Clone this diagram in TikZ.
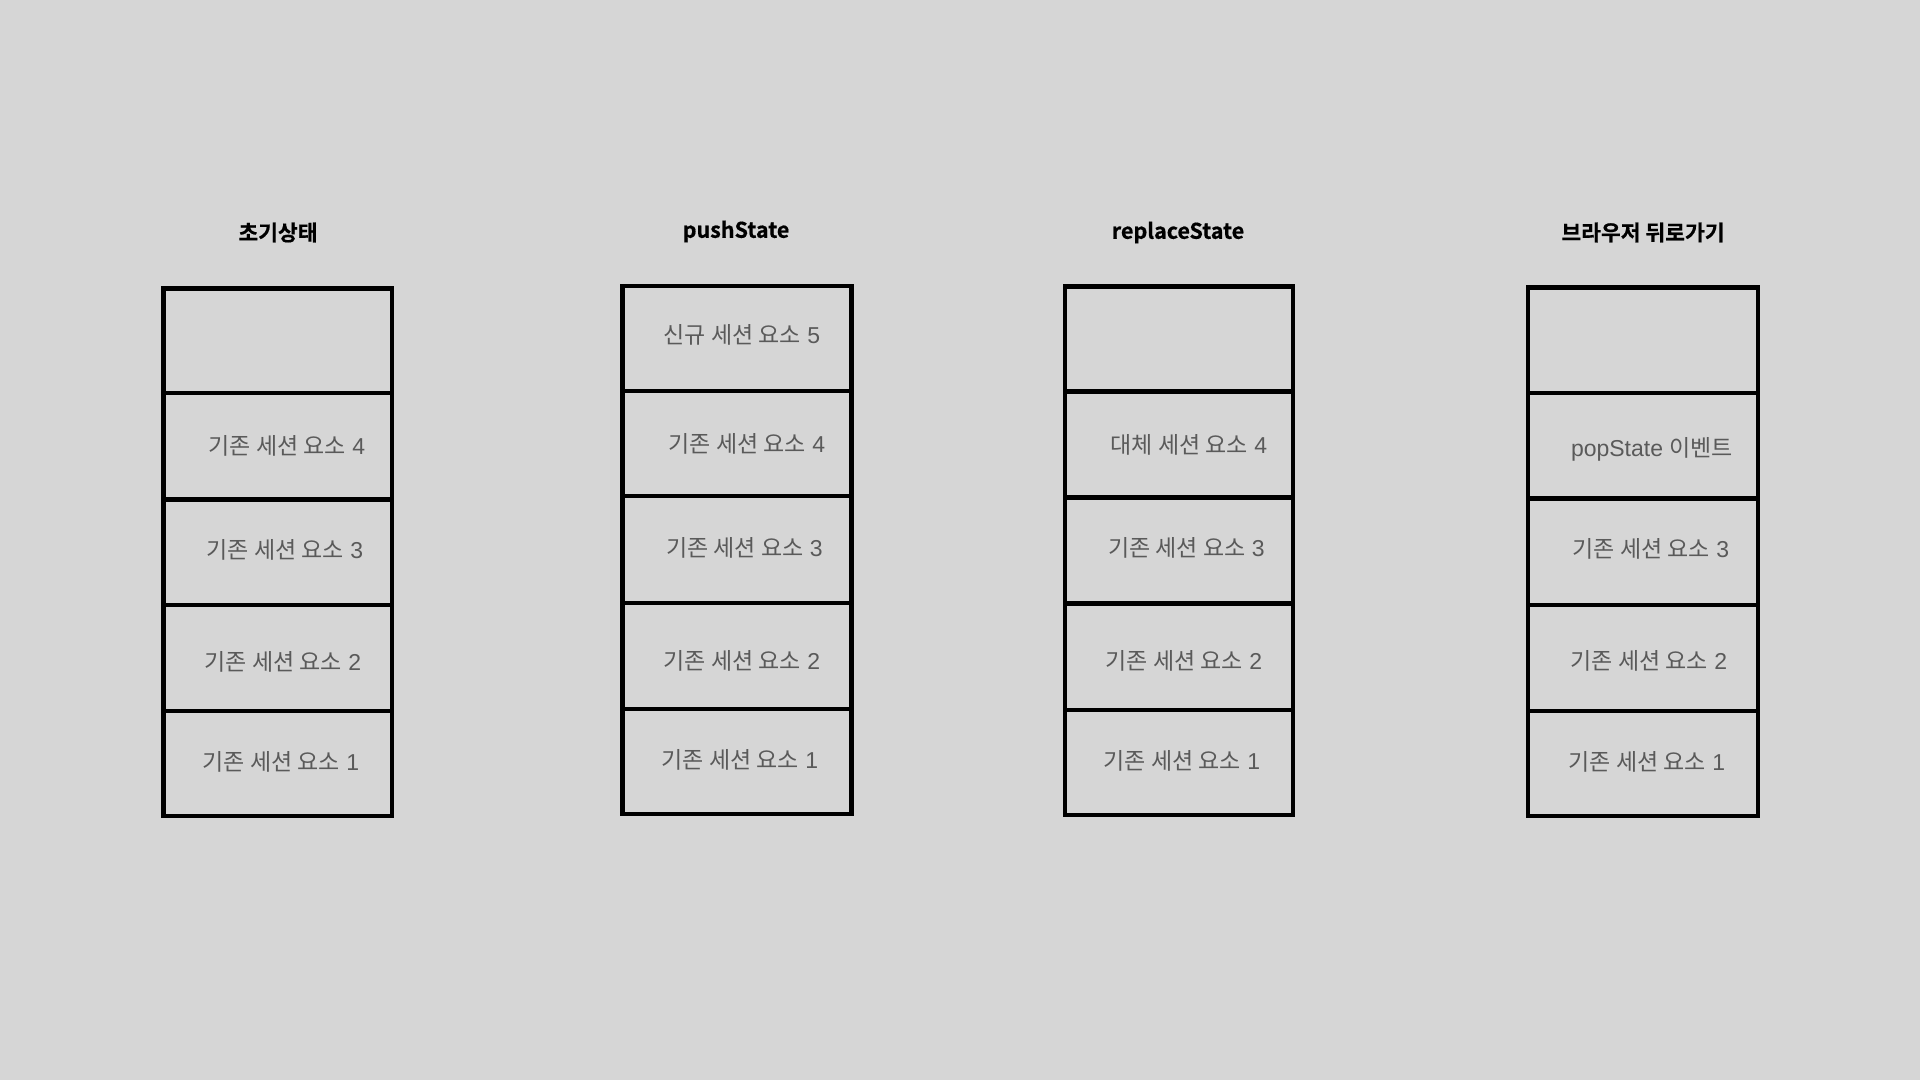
\documentclass[tikz,border=0pt]{standalone}
\usepackage{fontspec}
\setmainfont{Liberation Sans}
\newfontfamily\kr{Noto Sans CJK KR}
\newfontfamily\krb{Noto Sans CJK KR Bold}[FakeBold=0.6]
\definecolor{bgc}{HTML}{D6D6D6}
\definecolor{txt}{HTML}{5A5A5A}
\tikzset{
  cellbox/.style={draw=black, line width=4.7pt, minimum width=229pt, inner sep=0pt, outer sep=0pt},
  celltext/.style={text=txt, font=\fontsize{23}{26}\selectfont, inner sep=0pt, anchor=center},
  titletext/.style={text=black, font=\fontsize{21.5}{25}\selectfont\krb, inner sep=0pt, anchor=center}
}
\newcommand\kt[1]{{\kr #1}}
\begin{document}
\begin{tikzpicture}[x=1pt,y=-1pt]
\fill[bgc] (0,0) rectangle (1920,1080);
\useasboundingbox (0,0) rectangle (1920,1080);
% titles
\node[titletext] (t1) at (278,232.5) {초기상태};
\node[titletext] (t2) at (736,231.5) {pushState};
\node[titletext] (t3) at (1178,232.5) {replaceState};
\node[titletext] (t4) at (1643,232.5) {브라우저 뒤로가기};
% column 1
\node[cellbox, minimum width=228.5pt, minimum height=104.5pt] (a1) at (277.75,340.75) {};
\node[cellbox, minimum width=228.5pt, minimum height=106.5pt] (a2) at (277.75,446.25) {};
\node[cellbox, minimum width=228.5pt, minimum height=105.5pt] (a3) at (277.75,552.25) {};
\node[cellbox, minimum width=228.5pt, minimum height=106pt] (a4) at (277.75,658) {};
\node[cellbox, minimum width=228.5pt, minimum height=105pt] (a5) at (277.75,763.5) {};
% column 2
\node[cellbox, minimum height=105pt] (b1) at (737,338.5) {};
\node[cellbox, minimum height=105pt] (b2) at (737,443.5) {};
\node[cellbox, minimum height=107pt] (b3) at (737,549.5) {};
\node[cellbox, minimum height=106pt] (b4) at (737,656) {};
\node[cellbox, minimum height=105pt] (b5) at (737,761.5) {};
% column 3
\node[cellbox, minimum width=228pt, minimum height=105pt] (c1) at (1179,339) {};
\node[cellbox, minimum width=228pt, minimum height=106pt] (c2) at (1179,444.5) {};
\node[cellbox, minimum width=228pt, minimum height=106pt] (c3) at (1179,550.5) {};
\node[cellbox, minimum width=228pt, minimum height=106.5pt] (c4) at (1179,656.75) {};
\node[cellbox, minimum width=228pt, minimum height=105pt] (c5) at (1179,762.5) {};
% column 4
\node[cellbox, minimum width=230pt, minimum height=105.5pt] (d1) at (1643,340.25) {};
\node[cellbox, minimum width=230pt, minimum height=105.5pt] (d2) at (1643,445.75) {};
\node[cellbox, minimum width=230pt, minimum height=106.5pt] (d3) at (1643,551.75) {};
\node[cellbox, minimum width=230pt, minimum height=106pt] (d4) at (1643,658) {};
\node[cellbox, minimum width=230pt, minimum height=105pt] (d5) at (1643,763.5) {};
% texts column 1
\node[celltext] (la2) at (287,446) {\kt{기존 세션 요소} 4};
\node[celltext] (la3) at (285,550) {\kt{기존 세션 요소} 3};
\node[celltext] (la4) at (283,661.5) {\kt{기존 세션 요소} 2};
\node[celltext] (la5) at (281,762) {\kt{기존 세션 요소} 1};
% texts column 2
\node[celltext] (lb1) at (742,334.5) {\kt{신규 세션 요소} 5};
\node[celltext] (lb2) at (747,443.5) {\kt{기존 세션 요소} 4};
\node[celltext] (lb3) at (744.5,547.5) {\kt{기존 세션 요소} 3};
\node[celltext] (lb4) at (742,660.5) {\kt{기존 세션 요소} 2};
\node[celltext] (lb5) at (740,759.5) {\kt{기존 세션 요소} 1};
% texts column 3
\node[celltext] (lc2) at (1189,445) {\kt{대체 세션 요소} 4};
\node[celltext] (lc3) at (1186.5,547.5) {\kt{기존 세션 요소} 3};
\node[celltext] (lc4) at (1184,660.5) {\kt{기존 세션 요소} 2};
\node[celltext] (lc5) at (1182,760.5) {\kt{기존 세션 요소} 1};
% texts column 4
\node[celltext] (ld2) at (1652,449.5) {popState \kt{이벤트}};
\node[celltext] (ld3) at (1651,549) {\kt{기존 세션 요소} 3};
\node[celltext] (ld4) at (1649,660.5) {\kt{기존 세션 요소} 2};
\node[celltext] (ld5) at (1647,762) {\kt{기존 세션 요소} 1};
\end{tikzpicture}
\end{document}
